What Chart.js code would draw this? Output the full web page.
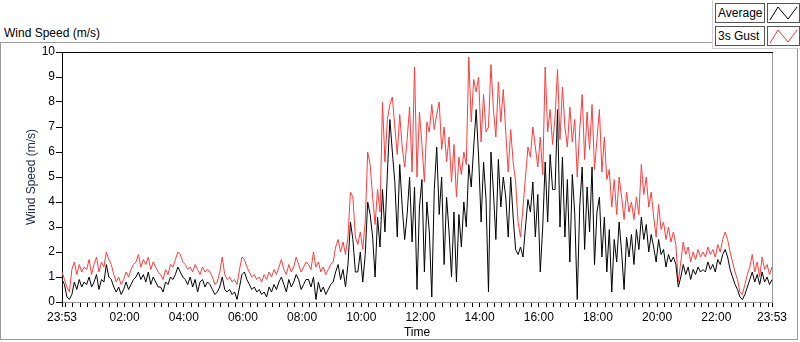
<!DOCTYPE html>
<html>
<head>
<meta charset="utf-8">
<script src="https://cdn.jsdelivr.net/npm/chart.js@4.4.1/dist/chart.umd.min.js"></script>
<style>
body { margin: 0; background: #fff; font-family: "Liberation Sans", Arial, sans-serif; }
#wrap { position: relative; width: 800px; height: 342px; overflow: hidden; }
#frame { position: absolute; left: 0; top: 42px; width: 796px; height: 296px; border: 1px solid #9a9a9a; }
#title { position: absolute; left: 4px; top: 26px; font-size: 12px; color: #000; }
#legend { position: absolute; left: 712px; top: 0; width: 88px; height: 48px; background: #fff; border-left: 1px solid #cfcfcf; border-bottom: 1px solid #cfcfcf; }
.lab { position: absolute; left: 2px; width: 46px; height: 18px; border: 1px solid #555; font-size: 12px; line-height: 18px; padding-left: 2px; color: #000; }
.ico { position: absolute; left: 54px; width: 31px; height: 18px; border: 1px solid #555; }
canvas { position: absolute; left: 0; top: 0; }
</style>
</head>
<body>
<div id="wrap">
  <div id="frame"></div>
  <div id="title">Wind Speed (m/s)</div>
  <div id="legend">
    <div class="lab" style="top:3px">Average</div>
    <svg class="ico" style="top:3px" width="31" height="18"><polyline points="2,16 10,3 20,15 29,3" fill="none" stroke="#000" stroke-width="1"/></svg>
    <div class="lab" style="top:26px">3s Gust</div>
    <svg class="ico" style="top:26px" width="31" height="18"><polyline points="2,16 10,3 20,15 29,3" fill="none" stroke="#ff3030" stroke-width="1"/></svg>
  </div>
  <canvas id="grafico" width="800" height="342"></canvas>
</div>
<script>
// one sample every 5 minutes, starting at 23:53
const passoMinutos = 5;

const media = [
  0.9, 0.7, 0.2, 0.1, 0.3, 0.8, 0.5, 0.9, 0.6, 0.8,
  0.7, 1.0, 0.6, 0.8, 1.1, 0.5, 0.9, 0.8, 1.5, 1.0,
  0.9, 0.6, 0.4, 0.6, 0.3, 0.5, 0.8, 0.5, 0.7, 0.9,
  1.0, 1.2, 0.9, 1.1, 0.8, 1.2, 0.7, 1.0, 0.8, 0.6,
  0.6, 0.4, 0.8, 0.7, 1.0, 0.9, 1.1, 1.4, 1.2, 1.0,
  0.9, 0.7, 1.0, 0.6, 0.9, 0.4, 0.8, 0.9, 0.6, 0.8,
  0.7, 0.5, 0.3, 0.4, 0.6, 1.0, 0.5, 0.4, 0.5, 0.3,
  0.4, 0.1, 0.6, 1.1, 1.2, 0.9, 0.7, 0.5, 0.6, 0.4,
  0.5, 0.3, 0.4, 0.2, 0.6, 0.4, 0.7, 0.5, 0.8, 1.0,
  0.7, 0.4, 0.9, 0.6, 0.8, 1.1, 0.9, 0.5, 0.7, 0.9,
  0.9, 0.6, 1.0, 0.1, 0.8, 0.4, 0.6, 0.3, 0.5, 0.7,
  0.8, 1.2, 1.5, 0.9, 1.3, 0.6, 1.5, 3.2, 2.5, 1.2,
  1.2, 2.0, 0.8, 1.9, 4.0, 3.5, 2.6, 1.0, 3.4, 2.2,
  4.5, 2.8, 5.2, 7.3, 6.0, 4.8, 2.6, 5.5, 3.8, 2.5,
  3.5, 5.0, 2.4, 4.6, 0.5, 3.8, 4.9, 1.2, 4.0, 2.8,
  0.2, 4.5, 6.2, 3.5, 5.0, 1.5, 4.2, 2.8, 1.0, 3.6,
  0.8, 3.5, 2.2, 4.0, 3.0, 5.5, 4.6, 6.2, 7.7, 5.8,
  3.2, 5.6, 4.1, 0.4, 6.0, 4.4, 2.5, 5.7, 3.8, 5.0,
  4.2, 2.6, 5.0, 3.4, 2.1, 1.9, 2.2, 1.8, 3.0, 4.1,
  3.6, 4.8, 2.6, 4.3, 1.2, 3.0, 5.6, 3.2, 5.9, 4.5,
  4.5, 7.7, 3.0, 5.8, 2.6, 4.9, 1.6, 5.1, 3.5, 0.1,
  3.8, 5.4, 2.1, 4.6, 2.8, 5.4, 1.5, 3.6, 4.2, 1.8,
  3.4, 1.2, 2.9, 0.4, 2.5, 1.6, 3.2, 2.0, 0.5, 2.6,
  1.8, 2.7, 1.5, 2.9, 2.1, 3.4, 2.5, 3.1, 2.0, 2.7,
  2.2, 1.6, 2.5, 1.9, 2.1, 1.4, 1.9, 1.6, 1.8, 1.5,
  0.6, 1.0, 1.5, 1.1, 1.4, 0.9, 1.3, 1.1, 1.4, 1.2,
  1.3, 1.2, 1.6, 1.3, 1.5, 1.2, 1.7, 1.5, 1.9, 2.1,
  1.8, 1.3, 1.0, 0.7, 0.5, 0.2, 0.1, 0.3, 0.6, 0.9,
  1.2, 0.8, 1.1, 0.7, 1.2, 0.8, 1.0, 0.7, 0.9
];

const rajada = [
  1.2, 0.9, 0.6, 0.4, 1.3, 1.6, 1.1, 1.5, 1.2, 1.4,
  1.3, 1.7, 1.1, 1.5, 1.8, 1.2, 1.6, 1.4, 2.0, 1.7,
  1.5, 1.1, 0.8, 1.0, 0.7, 0.9, 1.2, 1.0, 1.3, 1.5,
  1.6, 1.9, 1.4, 1.7, 1.5, 1.8, 1.3, 1.6, 1.4, 1.2,
  1.1, 0.9, 1.3, 1.1, 1.5, 1.4, 1.7, 2.0, 1.9, 1.6,
  1.5, 1.3, 1.4, 1.2, 1.5, 1.3, 1.1, 1.4, 1.2, 1.3,
  1.2, 1.0, 0.7, 0.8, 1.2, 1.8, 1.1, 0.9, 1.0, 0.8,
  0.9, 0.7, 1.3, 1.8, 1.7, 1.4, 1.2, 1.0, 1.1, 0.9,
  1.0, 0.8, 1.1, 0.9, 1.2, 1.0, 1.3, 1.1, 1.4, 1.7,
  1.3, 1.1, 1.5, 1.2, 1.4, 1.8, 1.5, 1.2, 1.4, 1.6,
  1.5, 1.3, 2.0, 1.4, 1.6, 1.2, 1.4, 1.1, 1.3, 1.5,
  1.6, 2.2, 2.5, 2.0, 2.4, 1.9, 2.6, 4.4, 4.2, 2.6,
  2.3, 2.8, 2.1, 3.2, 6.0, 5.5, 4.2, 3.1, 4.5, 3.6,
  8.0, 5.6, 7.3, 7.9, 8.2, 7.0, 5.9, 7.5, 6.2, 5.4,
  6.5, 7.8, 5.2, 9.4, 5.0, 7.6, 6.3, 4.8, 7.2, 6.8,
  7.9, 6.9, 7.5, 8.0, 6.1, 7.0, 5.6, 6.6, 4.8, 6.3,
  4.2, 5.8, 5.1, 6.0, 5.5, 9.8, 7.2, 8.9, 8.4, 9.0,
  6.4, 8.3, 6.8, 7.0, 9.5, 7.7, 6.6, 8.8, 7.2, 8.5,
  6.8, 5.2, 6.9, 5.6, 4.8, 3.2, 2.6, 3.8, 5.0, 6.2,
  5.8, 7.0, 6.2, 5.4, 6.6, 5.1, 9.4, 6.8, 7.7, 6.3,
  7.4, 9.3, 6.5, 8.6, 7.0, 6.2, 7.8, 6.4, 7.3, 5.0,
  6.9, 8.3, 5.7, 7.6, 6.1, 7.9, 5.3, 6.5, 7.7, 5.2,
  6.6, 4.9, 5.3, 3.8, 4.9, 3.5, 5.0, 4.2, 3.3, 4.4,
  3.6, 4.0, 3.3, 4.2, 3.5, 5.5, 4.3, 5.0, 3.8, 4.4,
  3.4, 2.6, 3.9, 2.9, 3.2, 2.5, 3.0, 2.4, 2.8, 2.3,
  0.8, 1.6, 2.4, 1.9, 2.2, 1.6, 2.0, 1.7, 2.1, 1.8,
  2.0, 1.8, 2.2, 1.9, 2.1, 1.8, 2.3, 2.0, 2.5, 2.8,
  2.5, 2.0, 1.6, 1.2, 0.9, 0.4, 0.3, 0.7, 1.1, 1.4,
  1.9, 1.2, 1.6, 1.0, 1.8, 1.3, 1.5, 1.1, 1.4
];

// labelled ticks (minutes after 23:53)
const minutosRotulo = [0, 127, 247, 367, 487, 607, 727, 847, 967, 1087, 1207, 1327, 1440];
const rotulosHora = ['23:53', '02:00', '04:00', '06:00', '08:00', '10:00', '12:00', '14:00', '16:00', '18:00', '20:00', '22:00', '23:53'];

const fonte = '"Liberation Sans", Arial, sans-serif';
Chart.defaults.font.family = fonte;
Chart.defaults.font.size = 12;
Chart.defaults.color = '#000';

const moldura = {
    id: 'moldura',
    afterDraw(chart) {
        const { ctx, chartArea: a } = chart;
        ctx.save();
        ctx.lineWidth = 1;
        ctx.strokeStyle = '#000';
        ctx.beginPath();
        ctx.moveTo(a.left, a.top + 0.5);
        ctx.lineTo(a.right + 1, a.top + 0.5);
        ctx.stroke();
        ctx.strokeStyle = '#9a9a9a';
        ctx.beginPath();
        ctx.moveTo(a.right + 0.5, a.top + 1);
        ctx.lineTo(a.right + 0.5, a.bottom);
        ctx.stroke();
        ctx.restore();
    }
};

function pontos(serie) {
    return serie.map((v, i) => ({ x: i * passoMinutos, y: v }));
}

const ctx = document.getElementById('grafico').getContext('2d');
new Chart(ctx, {
    type: 'line',
    data: {
        datasets: [{
            label: 'Average',
            data: pontos(media),
            borderColor: '#000',
            borderWidth: 1,
            pointRadius: 0,
            tension: 0
        }, {
            label: '3s Gust',
            data: pontos(rajada),
            borderColor: '#ff3b3b',
            borderWidth: 1,
            pointRadius: 0,
            tension: 0
        }]
    },
    options: {
        responsive: false,
        animation: false,
        events: [],
        layout: { padding: { left: 0, right: 28, top: 52, bottom: 0 } },
        plugins: { legend: { display: false }, tooltip: { enabled: false } },
        scales: {
            x: {
                type: 'linear',
                min: 0,
                max: 1440,
                afterBuildTicks: (s) => {
                    const t = [{ value: 0 }];
                    for (let m = 7; m < 1440; m += 15) t.push({ value: m });
                    t.push({ value: 1440 });
                    s.ticks = t;
                },
                afterFit: (s) => { s.height = 40; },
                ticks: {
                    autoSkip: false,
                    maxRotation: 0,
                    padding: 3,
                    color: '#000',
                    callback: (v) => {
                        const k = minutosRotulo.indexOf(v);
                        return k < 0 ? '' : rotulosHora[k];
                    }
                },
                grid: { drawOnChartArea: false, drawTicks: true, tickLength: 5, tickColor: '#000' },
                border: { color: '#9a9a9a', width: 1 },
                title: { display: true, text: 'Time', color: '#000', padding: { top: 0, bottom: 2 } }
            },
            y: {
                min: 0,
                max: 10,
                afterFit: (s) => { s.width = 62; },
                ticks: { stepSize: 1, padding: 1, color: '#000' },
                grid: { drawOnChartArea: false, drawTicks: true, tickLength: 6, tickColor: '#000' },
                border: { color: '#000', width: 1 },
                title: { display: true, text: 'Wind Speed (m/s)', color: '#1f2a48', padding: { top: 24, bottom: 0 } }
            }
        }
    },
    plugins: [moldura]
});
</script>
</body>
</html>
